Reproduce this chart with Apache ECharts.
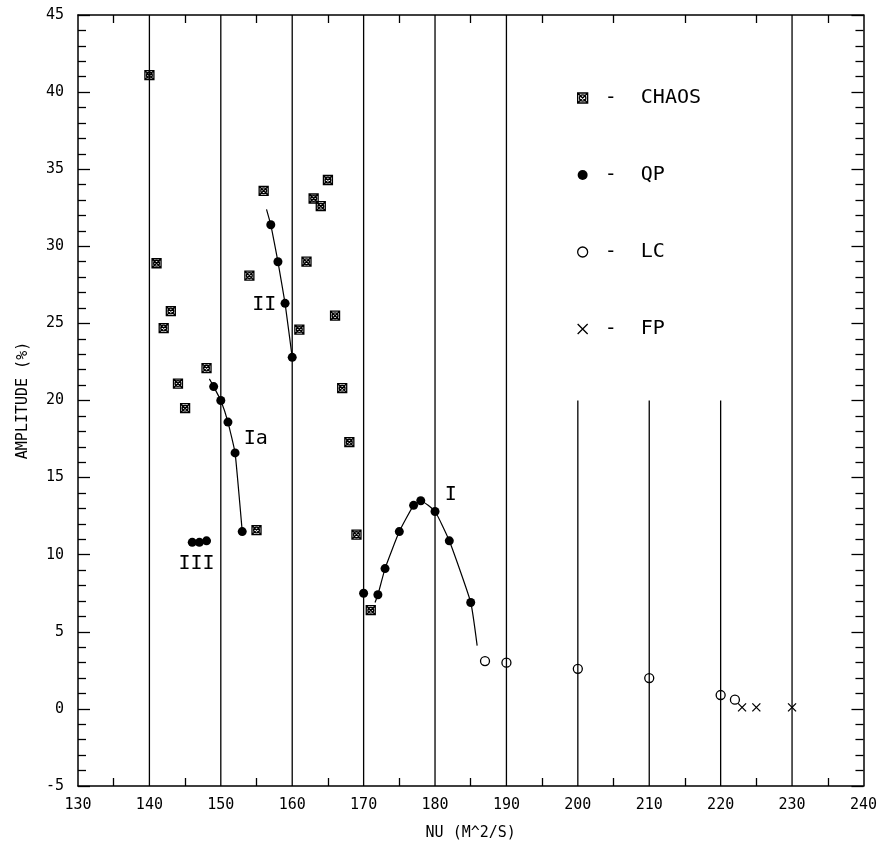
<!DOCTYPE html>
<html>
<head>
<meta charset="utf-8">
<script src="https://cdn.jsdelivr.net/npm/echarts@6/dist/echarts.min.js"></script>
<style>
  html, body { margin: 0; padding: 0; background: #fff; }
  #chart { width: 880px; height: 846px; }
</style>
</head>
<body>
<div id="chart"></div>
<script>
// ---- data ----
const chaos = [[140,41.1],[141,28.9],[142,24.7],[143,25.8],[144,21.1],[145,19.5],[148,22.1],[154,28.1],[155,11.6],[156,33.6],[161,24.6],[162,29.0],[163,33.1],[164,32.6],[165,34.3],[166,25.5],[167,20.8],[168,17.3],[169,11.3],[171,6.4]];
const qp = [[146,10.8],[147,10.8],[148,10.9],[149,20.9],[150,20.0],[151,18.6],[152,16.6],[153,11.5],[157,31.4],[158,29.0],[159,26.3],[160,22.8],[170,7.5],[172,7.4],[173,9.1],[175,11.5],[177,13.2],[178,13.5],[180,12.8],[182,10.9],[185,6.9]];
const lc = [[187,3.1],[190,3.0],[200,2.6],[210,2.0],[220,0.9],[222,0.6]];
const fp = [[223,0.1],[225,0.1],[230,0.1]];
const curveI = [[171.6,6.9],[172,7.4],[173,9.1],[175,11.5],[177,13.2],[178,13.5],[180,12.8],[182,10.9],[185,6.9],[185.9,4.1]];
const curveIa = [[148.4,21.4],[149,20.9],[150,20.0],[151,18.6],[152,16.6],[153,11.5]];
const curveII = [[156.4,32.4],[157,31.4],[158,29.0],[159,26.3],[160,22.8]];
const regionLabels = [[156.1,26.2,'II'],[154.9,17.5,'Ia'],[146.6,9.4,'III'],[182.2,13.9,'I']];
const verticalFull = [140,150,160,170,180,190,230];
const verticalPartial = [200,210,220];
const partialTop = 20;
const xRange = [130, 240];
const yRange = [-5, 45];
const legendNames = ['CHAOS','QP','LC','FP'];

const FONT = '"DejaVu Sans Mono", "Liberation Mono", monospace';
const chaosSymbol = 'path://M0,0L10,0L10,10L0,10ZM0,0L10,10M10,0L0,10M8.2,5A3.2,3.2,0,1,1,1.8,5A3.2,3.2,0,1,1,8.2,5Z';
const crossSymbol = 'path://M0,0L10,10M10,0L0,10';

const vLineSeries = [];
verticalFull.forEach(x => vLineSeries.push({
  type: 'line', data: [[x, yRange[0]], [x, yRange[1]]], symbol: 'none', silent: true,
  lineStyle: { color: '#000', width: 1.3 }, z: 1
}));
verticalPartial.forEach(x => vLineSeries.push({
  type: 'line', data: [[x, yRange[0]], [x, partialTop]], symbol: 'none', silent: true,
  lineStyle: { color: '#000', width: 1.3 }, z: 1
}));

const curveSeries = [curveI, curveIa, curveII].map((d, i) => ({
  type: 'line', data: d, symbol: 'none', silent: true, smooth: i === 0 ? 0.15 : 0.1,
  lineStyle: { color: '#000', width: 1.2 }, z: 2
}));

const axisLineStyle = { onZero: false, lineStyle: { color: '#000', width: 1.5 } };
const openStyle = { color: 'transparent', borderColor: '#000', borderWidth: 1.3, opacity: 1 };

const option = {
  animation: false,
  backgroundColor: '#fff',
  grid: { left: 78, right: 15, top: 15, bottom: 59 },
  legend: {
    data: [
      { name: 'CHAOS', itemStyle: openStyle },
      { name: 'QP' },
      { name: 'LC', itemStyle: openStyle },
      { name: 'FP', itemStyle: openStyle }
    ],
    orient: 'vertical',
    left: 572,
    top: 83,
    itemWidth: 10,
    itemHeight: 10,
    itemGap: 57,
    textStyle: { fontFamily: FONT, fontSize: 20, color: '#000', lineHeight: 20 },
    formatter: n => ' -  ' + n,
    selectedMode: false
  },
  xAxis: [
    {
      type: 'value', min: xRange[0], max: xRange[1], interval: 10, position: 'bottom',
      name: 'NU (M^2/S)', nameLocation: 'middle', nameGap: 40,
      nameTextStyle: { fontFamily: FONT, fontSize: 15, color: '#000' },
      axisLine: axisLineStyle,
      axisTick: { show: false, inside: true },
      minorTick: { show: true, splitNumber: 2, length: 8, lineStyle: { color: '#000', width: 1.3 } },
      axisLabel: { fontFamily: FONT, fontSize: 15, color: '#000', margin: 12 },
      splitLine: { show: false }
    },
    {
      type: 'value', min: xRange[0], max: xRange[1], interval: 10, position: 'top',
      axisLine: axisLineStyle,
      axisTick: { show: false, inside: true },
      minorTick: { show: true, splitNumber: 2, length: 8, lineStyle: { color: '#000', width: 1.3 } },
      axisLabel: { show: false },
      splitLine: { show: false }
    }
  ],
  yAxis: [
    {
      type: 'value', min: yRange[0], max: yRange[1], interval: 5, position: 'left',
      name: 'AMPLITUDE (%)', nameLocation: 'middle', nameGap: 47,
      nameTextStyle: { fontFamily: FONT, fontSize: 15, color: '#000' },
      axisLine: axisLineStyle,
      axisTick: { show: true, inside: true, length: 12, lineStyle: { color: '#000', width: 1.3 } },
      minorTick: { show: true, splitNumber: 5, length: 8, lineStyle: { color: '#000', width: 1.3 } },
      axisLabel: { fontFamily: FONT, fontSize: 15, color: '#000', margin: 14 },
      splitLine: { show: false }
    },
    {
      type: 'value', min: yRange[0], max: yRange[1], interval: 5, position: 'right',
      axisLine: axisLineStyle,
      axisTick: { show: true, inside: true, length: 12, lineStyle: { color: '#000', width: 1.3 } },
      minorTick: { show: true, splitNumber: 5, length: 8, lineStyle: { color: '#000', width: 1.3 } },
      axisLabel: { show: false },
      splitLine: { show: false }
    }
  ],
  series: [
    ...vLineSeries,
    ...curveSeries,
    {
      name: 'CHAOS', type: 'scatter', data: chaos, symbol: chaosSymbol, symbolSize: 9, z: 5,
      itemStyle: openStyle
    },
    {
      name: 'QP', type: 'scatter', data: qp, symbol: 'circle', symbolSize: 9, z: 5,
      itemStyle: { color: '#000', opacity: 1 }
    },
    {
      name: 'LC', type: 'scatter', data: lc, symbol: 'circle', symbolSize: 9, z: 5,
      itemStyle: openStyle
    },
    {
      name: 'FP', type: 'scatter', data: fp, symbol: crossSymbol, symbolSize: 8, z: 5,
      itemStyle: openStyle
    },
    {
      type: 'scatter', data: regionLabels, symbolSize: 1, silent: true, z: 6,
      itemStyle: { color: 'transparent', opacity: 1 },
      label: {
        show: true, position: 'inside', formatter: p => p.value[2],
        fontFamily: FONT, fontSize: 20, color: '#000'
      }
    }
  ]
};

const chart = echarts.init(document.getElementById('chart'), null, { renderer: 'canvas' });
chart.setOption(option);
</script>
</body>
</html>
